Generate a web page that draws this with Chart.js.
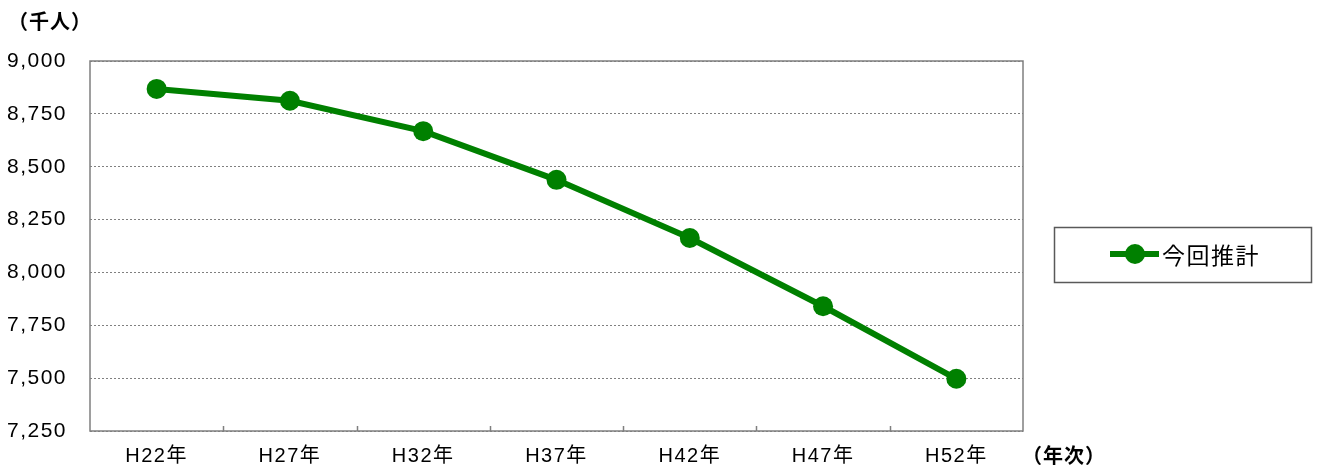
<!DOCTYPE html>
<html>
<head>
<meta charset="utf-8">
<script src="https://cdn.jsdelivr.net/npm/chart.js@4/dist/chart.umd.min.js"></script>
<style>
  html, body { margin: 0; padding: 0; background: #fff; }
  #wrap { width: 1318px; height: 468px; }
</style>
</head>
<body>
<div id="wrap"><canvas id="c" width="1318" height="468"></canvas></div>
<script>
var years = ['H22年', 'H27年', 'H32年', 'H37年', 'H42年', 'H47年', 'H52年'];
var suikei = [8868, 8812, 8668, 8438, 8163, 7840, 7497];
var seriesName = '今回推計';
var yUnit = '（千人）';
var xUnit = '（年次）';

var green = '#008000';
var fontFamily = '"Liberation Sans", "Noto Sans CJK JP", sans-serif';

// wider glyph spacing for the tick labels, like the original font
var spacing = {
  id: 'spacing',
  beforeDraw: function (chart) {
    chart.ctx.letterSpacing = '1.5px';
  }
};

// frame, x tick marks, unit labels and the boxed legend
var extras = {
  id: 'extras',
  afterDraw: function (chart) {
    var ctx = chart.ctx;
    var a = chart.chartArea;
    var x = chart.scales.x;
    var i, px;

    ctx.save();
    ctx.letterSpacing = '0px';
    ctx.strokeStyle = '#7f7f7f';
    ctx.lineWidth = 1.5;
    ctx.strokeRect(a.left, a.top, a.right - a.left, a.bottom - a.top);

    ctx.beginPath();
    for (i = 0; i < years.length - 1; ++i) {
      px = Math.round((x.getPixelForTick(i) + x.getPixelForTick(i + 1)) / 2) + 0.5;
      ctx.moveTo(px, a.bottom);
      ctx.lineTo(px, a.bottom - 5);
    }
    ctx.stroke();

    ctx.fillStyle = '#000';
    ctx.font = 'bold 20px ' + fontFamily;
    ctx.letterSpacing = '1px';
    ctx.textBaseline = 'middle';
    ctx.textAlign = 'left';
    ctx.fillText(yUnit, 8, 23);
    ctx.fillText(xUnit, 1022, 457);

    // legend
    ctx.strokeStyle = '#595959';
    ctx.lineWidth = 1.5;
    ctx.strokeRect(1054.5, 227.5, 257, 55);
    ctx.strokeStyle = green;
    ctx.lineWidth = 6;
    ctx.beginPath();
    ctx.moveTo(1110, 254);
    ctx.lineTo(1159, 254);
    ctx.stroke();
    ctx.fillStyle = green;
    ctx.beginPath();
    ctx.arc(1135, 254, 10, 0, Math.PI * 2);
    ctx.fill();
    ctx.fillStyle = '#000';
    ctx.font = '23px "Noto Sans CJK JP", sans-serif';
    ctx.letterSpacing = '1.5px';
    ctx.fillText(seriesName, 1162, 255);
    ctx.restore();
  }
};

var ctx = document.getElementById('c').getContext('2d');
var chart = new Chart(ctx, {
  type: 'line',
  data: {
    labels: years,
    datasets: [{
      label: seriesName,
      data: suikei,
      borderColor: green,
      backgroundColor: green,
      borderWidth: 6,
      pointRadius: 10,
      pointHoverRadius: 10,
      pointBorderWidth: 0,
      tension: 0
    }]
  },
  options: {
    responsive: false,
    animation: false,
    layout: { padding: { top: 61, right: 295, bottom: 0, left: 0 } },
    plugins: { legend: { display: false }, tooltip: { enabled: false } },
    scales: {
      x: {
        offset: true,
        grid: { display: false, drawTicks: false },
        border: { display: false },
        ticks: { color: '#000', padding: 13, font: { family: fontFamily, size: 20 } },
        afterFit: function (s) { s.height = 37; }
      },
      y: {
        min: 7250,
        max: 9000,
        ticks: {
          stepSize: 250,
          color: '#000',
          padding: 23,
          font: { family: fontFamily, size: 21 },
          callback: function (v) { return v.toLocaleString('en-US'); }
        },
        grid: { color: '#808080', lineWidth: 1, drawTicks: false },
        border: { display: false, dash: [2, 2] },
        afterFit: function (s) { s.width = 90; }
      }
    }
  },
  plugins: [spacing, extras]
});
</script>
</body>
</html>
